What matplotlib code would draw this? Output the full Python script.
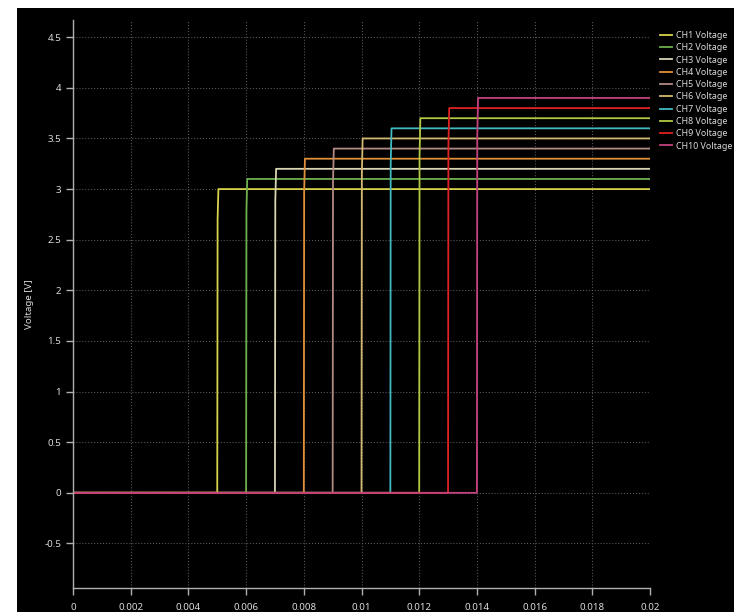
import numpy as np
import matplotlib.pyplot as plt

plt.rcParams['font.family'] = ['Noto Sans', 'DejaVu Sans']

# channel step data: switch-on time [s] and settled level [V]
channels = ['CH1', 'CH2', 'CH3', 'CH4', 'CH5', 'CH6', 'CH7', 'CH8', 'CH9', 'CH10']
t_on = [0.005, 0.006, 0.007, 0.008, 0.009, 0.010, 0.011, 0.012, 0.013, 0.014]
v_on = [3.0, 3.1, 3.2, 3.3, 3.4, 3.5, 3.6, 3.7, 3.8, 3.9]
t_end = 0.02
rise = 0.00004
colors = ['#d9d34c', '#6db04e', '#d9d5b3', '#e0903a', '#b28a84',
          '#d2b872', '#42b9c1', '#b3c944', '#e02222', '#c4437f']

fig = plt.figure(figsize=(7.34, 6.12), dpi=100, facecolor='white')
# dark panel behind the plot
fig.patches.append(plt.Rectangle((17/734, 0), 1, 1 - 8/612, transform=fig.transFigure,
                                 facecolor='black', zorder=-10))
ax = fig.add_axes([73/734, 1 - 588/612, 577/734, 568/612])
ax.set_facecolor('black')

for name, t0, v, c in zip(channels, t_on, v_on, colors):
    t = [0, t0, t0 + rise * 0.3, t0 + rise, t_end]
    y = [0, 0, v * 0.9, v, v]
    ax.plot(t, y, color=c, lw=1.3, label=name + ' Voltage')

ax.set_xlim(0, 0.02)
ax.set_ylim(-0.94, 4.67)
xt = np.arange(0, 0.0201, 0.002)
ax.set_xticks(xt)
ax.set_xticklabels(['%g' % round(v, 3) for v in xt])
yt = np.arange(-0.5, 4.51, 0.5)
ax.set_yticks(yt)
ax.set_yticklabels(['%g' % v for v in yt])

ax.grid(True, color='#555555', ls=':', lw=0.8)
for s in ['top', 'right']:
    ax.spines[s].set_visible(False)
for s in ['left', 'bottom']:
    ax.spines[s].set_color('#b0b0b0')
    ax.spines[s].set_linewidth(1.0)
ax.tick_params(colors='#b0b0b0', labelcolor='#dadada', labelsize=7, length=5, width=1.0)
ax.tick_params(axis='x', pad=6)
ax.set_ylabel('Voltage [V]', color='#dadada', fontsize=7, labelpad=7)

leg = ax.legend(loc='upper left', bbox_to_anchor=(660/734, 1 - 31/612),
                bbox_transform=fig.transFigure, frameon=False, fontsize=6.4,
                handlelength=1.35, handletextpad=0.45, labelspacing=0.37,
                borderaxespad=0, borderpad=0)
for txt in leg.get_texts():
    txt.set_color('#dadada')

fig.savefig('out.png', dpi=100, facecolor='white')
